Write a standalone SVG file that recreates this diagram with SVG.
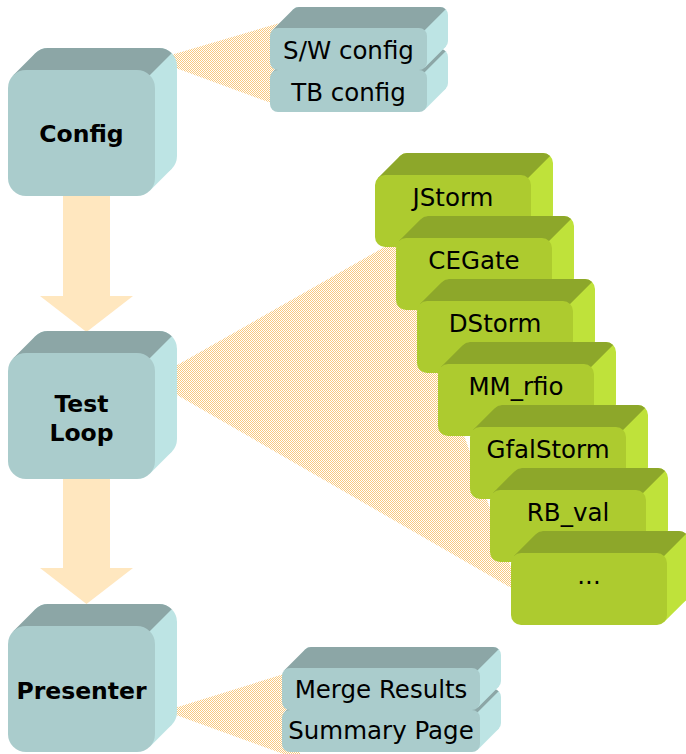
<svg xmlns="http://www.w3.org/2000/svg" xmlns:xlink="http://www.w3.org/1999/xlink" width="686" height="754" viewBox="0 0 686 754">
  <style>
    .tf { fill: #AACCCC; }
    .tt { fill: #8CA6A6; }
    .tr { fill: #BDE4E4; }
    .gf { fill: #ADCB2F; }
    .gt { fill: #8DA72A; }
    .gr { fill: #BFE23A; }
    .fan { fill: url(#dots); }
    .flow { fill: #FFE7BF; }
    .title { font-family: "DejaVu Sans", Verdana, sans-serif; font-weight: bold; font-size: 23.5px; text-anchor: middle; fill: #000; }
    .lbl { font-family: "DejaVu Sans", Verdana, sans-serif; font-size: 24.5px; text-anchor: middle; fill: #000; }
  </style>
  <defs>
    <!-- fine checkered fill for the fan-out wedges -->
    <pattern id="dots" width="2" height="2" patternUnits="userSpaceOnUse">
      <rect x="0" y="0" width="1" height="1" fill="#F9C97F"/>
      <rect x="1" y="1" width="1" height="1" fill="#F9C97F"/>
    </pattern>
    <!-- large teal block: front face 147x126, depth 22, radius 18 -->
    <g id="bigBlock">
      <rect class="tr" x="22" y="-22" width="147" height="126" rx="18"/>
      <polygon class="tr" points="141.73,5.27 163.73,-16.73 163.73,98.73 141.73,120.73"/>
      <path class="tt" d="M5.27,5.27 L27.27,-16.73 A18,18 0 0 1 40,-22 L151,-22 A18,18 0 0 1 163.73,-16.73 L141.73,5.27 Z"/>
      <rect class="tf" x="0" y="0" width="147" height="126" rx="18"/>
    </g>
    <!-- flat teal slab: front face 157x42, depth 21, radius 8 -->
    <g id="slab">
      <rect class="tr" x="21" y="-21" width="157" height="42" rx="8"/>
      <polygon class="tr" points="154.66,2.34 175.66,-18.66 175.66,18.66 154.66,39.66"/>
      <path class="tt" d="M2.34,2.34 L23.34,-18.66 A8,8 0 0 1 29,-21 L170,-21 A8,8 0 0 1 175.66,-18.66 L154.66,2.34 Z"/>
      <rect class="tf" x="0" y="0" width="157" height="42" rx="8"/>
    </g>
    <!-- wide teal slab: front face 198x42, depth 21, radius 8 -->
    <g id="wideSlab">
      <rect class="tr" x="21" y="-21" width="198" height="42" rx="8"/>
      <polygon class="tr" points="195.66,2.34 216.66,-18.66 216.66,18.66 195.66,39.66"/>
      <path class="tt" d="M2.34,2.34 L23.34,-18.66 A8,8 0 0 1 29,-21 L211,-21 A8,8 0 0 1 216.66,-18.66 L195.66,2.34 Z"/>
      <rect class="tf" x="0" y="0" width="198" height="42" rx="8"/>
    </g>
    <!-- green test block: front face 156x72, depth 22, radius 10 -->
    <g id="testBlock">
      <rect class="gr" x="22" y="-22" width="156" height="72" rx="10"/>
      <polygon class="gr" points="153.07,2.93 175.07,-19.07 175.07,47.07 153.07,69.07"/>
      <path class="gt" d="M2.93,2.93 L24.93,-19.07 A10,10 0 0 1 32,-22 L168,-22 A10,10 0 0 1 175.07,-19.07 L153.07,2.93 Z"/>
      <rect class="gf" x="0" y="0" width="156" height="72" rx="10"/>
    </g>
  </defs>

  <rect x="0" y="0" width="686" height="754" fill="#FFFFFF"/>

  <!-- connectors: fan-out wedges and flow arrows -->
  <g id="connectors">
    <polygon class="fan" points="154,60 290,20 290,110"/>
    <polygon class="fan" points="151,380 395,241 520,593"/>
    <polygon class="fan" points="165,711 300,669 300,760"/>
    <polygon class="flow" points="63,190 110,190 110,296 133,296 86.5,332 40,296 63,296"/>
    <polygon class="flow" points="63,470 110,470 110,568 133,568 86.5,604 40,568 63,568"/>
  </g>

  <!-- main stages -->
  <g id="config">
    <use xlink:href="#bigBlock" transform="translate(8,70)"/>
    <text class="title" x="81.5" y="142">Config</text>
  </g>
  <g id="test-loop">
    <use xlink:href="#bigBlock" transform="translate(8,353)"/>
    <text class="title" x="81.5" y="412">Test</text>
    <text class="title" x="81.5" y="441">Loop</text>
  </g>
  <g id="presenter">
    <use xlink:href="#bigBlock" transform="translate(8,626)"/>
    <text class="title" x="81.5" y="699">Presenter</text>
  </g>

  <!-- config parts -->
  <g id="tb-config">
    <use xlink:href="#slab" transform="translate(270,70)"/>
    <text class="lbl" x="348.5" y="101">TB config</text>
  </g>
  <g id="sw-config">
    <use xlink:href="#slab" transform="translate(270,28)"/>
    <text class="lbl" x="348.5" y="59">S/W config</text>
  </g>

  <!-- tests run inside the loop -->
  <g id="jstorm">
    <use xlink:href="#testBlock" transform="translate(375,175)"/>
    <text class="lbl" x="453" y="206">JStorm</text>
  </g>
  <g id="cegate">
    <use xlink:href="#testBlock" transform="translate(396,238)"/>
    <text class="lbl" x="474" y="269">CEGate</text>
  </g>
  <g id="dstorm">
    <use xlink:href="#testBlock" transform="translate(417,301)"/>
    <text class="lbl" x="495" y="332">DStorm</text>
  </g>
  <g id="mm-rfio">
    <use xlink:href="#testBlock" transform="translate(438,364)"/>
    <text class="lbl" x="516" y="395">MM_rfio</text>
  </g>
  <g id="gfalstorm">
    <use xlink:href="#testBlock" transform="translate(470,427)"/>
    <text class="lbl" x="548" y="458">GfalStorm</text>
  </g>
  <g id="rb-val">
    <use xlink:href="#testBlock" transform="translate(490,490)"/>
    <text class="lbl" x="568" y="521">RB_val</text>
  </g>
  <g id="more-tests">
    <use xlink:href="#testBlock" transform="translate(511,553)"/>
    <text class="lbl" x="589" y="584">...</text>
  </g>

  <!-- presenter parts -->
  <g id="summary-page">
    <use xlink:href="#wideSlab" transform="translate(282,710)"/>
    <text class="lbl" x="381" y="739">Summary Page</text>
  </g>
  <g id="merge-results">
    <use xlink:href="#wideSlab" transform="translate(282,668)"/>
    <text class="lbl" x="381" y="698">Merge Results</text>
  </g>
</svg>
